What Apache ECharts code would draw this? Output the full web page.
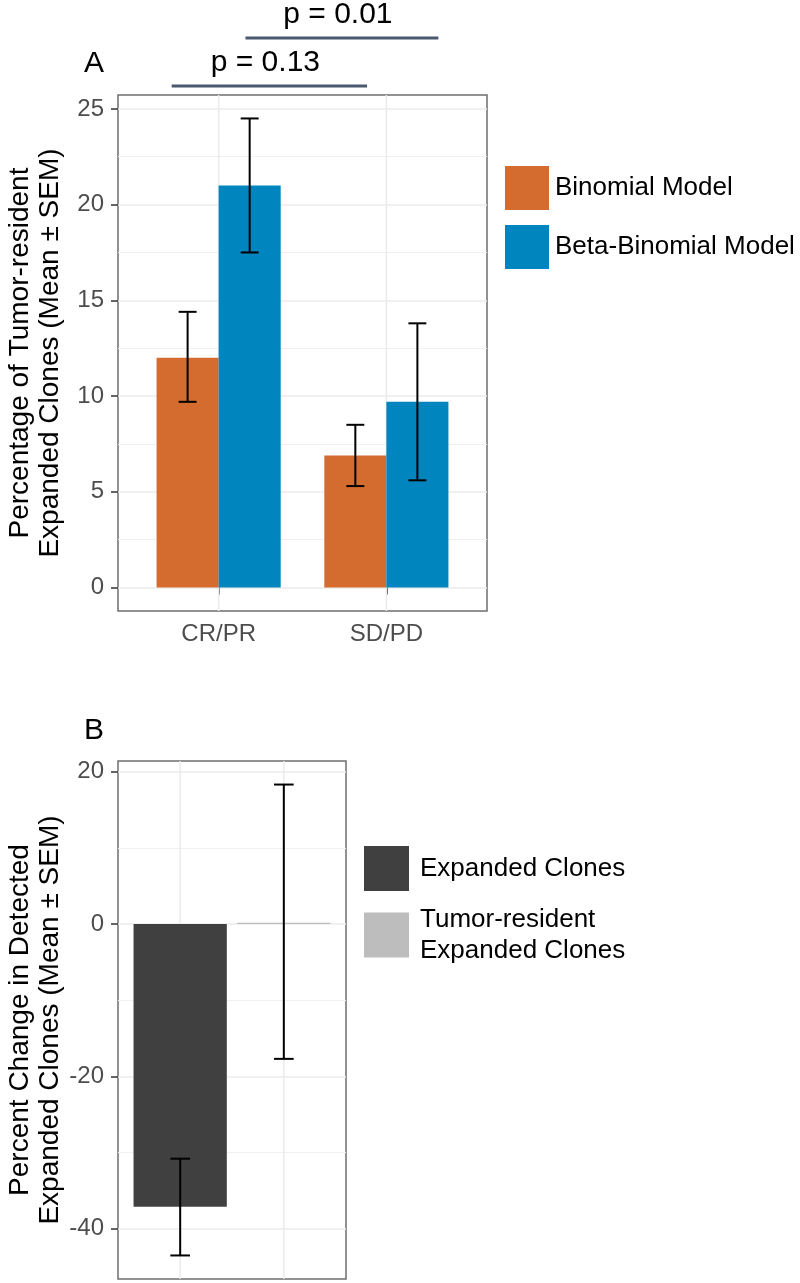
<!DOCTYPE html>
<html>
<head>
<meta charset="utf-8">
<title>Tumor-resident expanded clones</title>
<script src="https://cdn.jsdelivr.net/npm/echarts@6/dist/echarts.min.js"></script>
<style>
  html, body { margin: 0; padding: 0; background: #fff; }
  #chart { width: 800px; height: 1283px; }
</style>
</head>
<body>
<div id="chart"></div>
<script>
// panel A: response groups, two models, mean and SEM limits
const responseGroups = ['CR/PR', 'SD/PD'];
const binomialMean = [12.0, 6.9];
const binomialLow = [9.7, 5.3];
const binomialHigh = [14.4, 8.5];
const betaBinomialMean = [21.0, 9.7];
const betaBinomialLow = [17.5, 5.6];
const betaBinomialHigh = [24.5, 13.8];
const yTicksA = [0, 5, 10, 15, 20, 25];

// p-value brackets over panel A (x in axis units, level 1 = lower one)
const pLabels = ['p = 0.13', 'p = 0.01'];
const pStart = [0.72, 1.16];
const pEnd = [1.885, 2.31];
const pLevel = [1, 2];

// panel B: percent change in detected clones
const cloneTypes = ['Expanded Clones', 'Tumor-resident\nExpanded Clones'];
const changeMean = [-37.1, 0.15];
const changeLow = [-43.5, -17.7];
const changeHigh = [-30.8, 18.3];
const yTicksB = [-40, -20, 0, 20];

const FONT = '"Liberation Sans", Arial, sans-serif';
const colorsA = ['#D46B2F', '#0085BF'];
const colorsB = ['#404040', '#BDBDBD'];
const BAR_FRAC_A = 0.37;

// plot panels (ggplot style: discrete axis padded by 0.6 units each side)
const plotA = { left: 118, top: 95, width: 369, height: 516 };
const plotB = { left: 118, top: 761, width: 228, height: 518 };

function bandGrid(p) {
  const unit = p.width / 2.2;
  return { left: p.left + 0.1 * unit, top: p.top, width: 2 * unit, height: p.height };
}

// 5% expansion of the data range, like ggplot
function padRange(lows, highs) {
  const lo = Math.min(0, ...lows);
  const hi = Math.max(0, ...highs);
  const pad = (hi - lo) * 0.05;
  return [lo - pad, hi + pad];
}

const rangeA = padRange(binomialLow.concat(betaBinomialLow), binomialHigh.concat(betaBinomialHigh));
const rangeB = padRange(changeLow, changeHigh);

const chart = echarts.init(document.getElementById('chart'));

function bgYAxis(gridIndex, range, ticks, splitNumber, name) {
  return {
    type: 'value', gridIndex: gridIndex,
    min: range[0], max: range[1], splitNumber: splitNumber,
    axisLine: { show: false },
    axisTick: { show: true, length: 7, customValues: ticks, lineStyle: { color: '#333', width: 1.5 } },
    axisLabel: { customValues: ticks, fontSize: 24, color: '#4D4D4D', fontFamily: FONT, margin: 14 },
    splitLine: { show: true, lineStyle: { color: '#EBEBEB', width: 1.5 } },
    minorTick: { show: false, splitNumber: 2 },
    minorSplitLine: { show: true, lineStyle: { color: '#F0F0F0', width: 1 } },
    name: name, nameLocation: 'middle', nameRotate: 90, nameGap: 53,
    nameMoveOverlap: false,
    nameTextStyle: { fontSize: 28, lineHeight: 30, color: '#000', fontFamily: FONT }
  };
}

function hiddenValueAxis(gridIndex, min, max) {
  return { type: 'value', gridIndex: gridIndex, min: min, max: max, show: false };
}

// vertical grid lines at category centres
function renderVGrid(params, api) {
  const x = api.coord([api.value(0), 0])[0];
  const cs = params.coordSys;
  return {
    type: 'line',
    shape: { x1: x, y1: cs.y, x2: x, y2: cs.y + cs.height },
    style: { stroke: '#EBEBEB', lineWidth: 1.5 }
  };
}

function renderErrorBar(capFrac) {
  return function (params, api) {
    const band = api.size([1, 0])[0];
    const x = api.coord([api.value(0), 0])[0] + api.value(3) * band;
    const yHigh = api.coord([api.value(0), api.value(2)])[1];
    const yLow = api.coord([api.value(0), api.value(1)])[1];
    const half = band * capFrac / 2;
    return {
      type: 'group',
      children: [
        { type: 'line', shape: { x1: x, y1: yHigh, x2: x, y2: yLow }, style: { stroke: '#000', lineWidth: 2 } },
        { type: 'line', shape: { x1: x - half, y1: yHigh, x2: x + half, y2: yHigh }, style: { stroke: '#000', lineWidth: 2 } },
        { type: 'line', shape: { x1: x - half, y1: yLow, x2: x + half, y2: yLow }, style: { stroke: '#000', lineWidth: 2 } }
      ]
    };
  };
}

const errorDataA = [];
responseGroups.forEach(function (g, i) {
  errorDataA.push([i, binomialLow[i], binomialHigh[i], -0.5 * BAR_FRAC_A]);
  errorDataA.push([i, betaBinomialLow[i], betaBinomialHigh[i], 0.5 * BAR_FRAC_A]);
});
const errorDataB = cloneTypes.map(function (c, i) { return [i, changeLow[i], changeHigh[i], 0]; });

const option = {
  animation: false,
  backgroundColor: '#fff',
  textStyle: { fontFamily: FONT },
  grid: [
    Object.assign({ show: true, borderColor: '#6E6E6E', borderWidth: 1.5, backgroundColor: '#fff', outerBoundsMode: 'none' }, plotA),
    Object.assign({ outerBoundsMode: 'none' }, bandGrid(plotA)),
    { left: plotA.left, width: plotA.width, top: 0, height: 134, outerBoundsMode: 'none' },
    Object.assign({ show: true, borderColor: '#6E6E6E', borderWidth: 1.5, backgroundColor: '#fff', outerBoundsMode: 'none' }, plotB),
    Object.assign({ outerBoundsMode: 'none' }, bandGrid(plotB))
  ],
  xAxis: [
    hiddenValueAxis(0, 0.4, 2.6),
    {
      type: 'category', gridIndex: 1, data: responseGroups,
      axisLine: { show: false },
      axisTick: { show: true, alignWithLabel: true, length: 7, lineStyle: { color: '#333', width: 1.5 } },
      axisLabel: { fontSize: 24, color: '#4D4D4D', fontFamily: FONT, margin: 11 },
      splitLine: { show: false }
    },
    hiddenValueAxis(2, 0.4, 2.6),
    hiddenValueAxis(3, 0.4, 2.6),
    {
      type: 'category', gridIndex: 4, data: cloneTypes,
      axisLine: { show: false }, axisTick: { show: false }, axisLabel: { show: false },
      splitLine: { show: false }
    }
  ],
  yAxis: [
    bgYAxis(0, rangeA, yTicksA, 5, 'Percentage of Tumor-resident\nExpanded Clones (Mean \u00B1 SEM)'),
    hiddenValueAxis(1, rangeA[0], rangeA[1]),
    hiddenValueAxis(2, 0, 2.79),
    bgYAxis(3, rangeB, yTicksB, 3, 'Percent Change in Detected\nExpanded Clones (Mean \u00B1 SEM)'),
    hiddenValueAxis(4, rangeB[0], rangeB[1])
  ],
  legend: [
    {
      data: ['Binomial Model', 'Beta-Binomial Model'],
      orient: 'vertical', left: 500, top: 161,
      itemWidth: 44, itemHeight: 44, itemGap: 15, icon: 'rect',
      selectedMode: false,
      textStyle: { fontSize: 26, color: '#000', fontFamily: FONT, padding: [0, 0, 0, 1] }
    },
    {
      data: cloneTypes,
      orient: 'vertical', left: 359, top: 841,
      itemWidth: 45, itemHeight: 45, itemGap: 13, icon: 'rect',
      selectedMode: false,
      textStyle: { fontSize: 26, lineHeight: 31, color: '#000', fontFamily: FONT, padding: [0, 0, 0, 6] }
    }
  ],
  graphic: [
    { type: 'text', style: { text: 'A', x: 94, y: 64, font: '30px ' + FONT, fill: '#000', align: 'center', verticalAlign: 'middle' } },
    { type: 'text', style: { text: 'B', x: 94, y: 731, font: '30px ' + FONT, fill: '#000', align: 'center', verticalAlign: 'middle' } }
  ],
  series: [
    {
      type: 'custom', xAxisIndex: 0, yAxisIndex: 0, z: 1, silent: true,
      data: responseGroups.map(function (g, i) { return [i + 1]; }),
      encode: { x: 0 },
      renderItem: renderVGrid
    },
    {
      name: 'Binomial Model', type: 'bar', xAxisIndex: 1, yAxisIndex: 1,
      data: binomialMean, barWidth: (BAR_FRAC_A * 100) + '%', barGap: '0%',
      itemStyle: { color: colorsA[0] }
    },
    {
      name: 'Beta-Binomial Model', type: 'bar', xAxisIndex: 1, yAxisIndex: 1,
      data: betaBinomialMean, barWidth: (BAR_FRAC_A * 100) + '%', barGap: '0%',
      itemStyle: { color: colorsA[1] }
    },
    {
      type: 'custom', xAxisIndex: 1, yAxisIndex: 1, z: 3, silent: true,
      data: errorDataA, encode: { x: 0, y: [1, 2] },
      renderItem: renderErrorBar(0.107)
    },
    {
      type: 'custom', xAxisIndex: 2, yAxisIndex: 2, z: 3, silent: true,
      data: pLabels.map(function (l, i) { return [pStart[i], pEnd[i], pLevel[i]]; }),
      encode: { x: [0, 1], y: 2 },
      renderItem: function (params, api) {
        const a = api.coord([api.value(0), api.value(2)]);
        const b = api.coord([api.value(1), api.value(2)]);
        return {
          type: 'group',
          children: [
            { type: 'line', shape: { x1: a[0], y1: a[1], x2: b[0], y2: b[1] }, style: { stroke: '#4A5970', lineWidth: 3 } },
            { type: 'text', style: { text: pLabels[params.dataIndex], x: (a[0] + b[0]) / 2 - 4, y: a[1] - 23, align: 'center', verticalAlign: 'middle', font: '30px ' + FONT, fill: '#000' } }
          ]
        };
      }
    },
    {
      type: 'custom', xAxisIndex: 3, yAxisIndex: 3, z: 1, silent: true,
      data: cloneTypes.map(function (c, i) { return [i + 1]; }),
      encode: { x: 0 },
      renderItem: renderVGrid
    },
    {
      name: cloneTypes[0], type: 'bar', xAxisIndex: 4, yAxisIndex: 4,
      data: cloneTypes.map(function (c, j) { return j === 0 ? changeMean[j] : '-'; }),
      barWidth: '90%', barGap: '-100%',
      itemStyle: { color: colorsB[0] }
    },
    {
      name: cloneTypes[1], type: 'bar', xAxisIndex: 4, yAxisIndex: 4,
      data: cloneTypes.map(function (c, j) { return j === 1 ? changeMean[j] : '-'; }),
      barWidth: '90%', barGap: '-100%',
      itemStyle: { color: colorsB[1] }
    },
    {
      type: 'custom', xAxisIndex: 4, yAxisIndex: 4, z: 3, silent: true,
      data: errorDataB, encode: { x: 0, y: [1, 2] },
      renderItem: renderErrorBar(0.19)
    }
  ]
};

chart.setOption(option);
</script>
</body>
</html>
